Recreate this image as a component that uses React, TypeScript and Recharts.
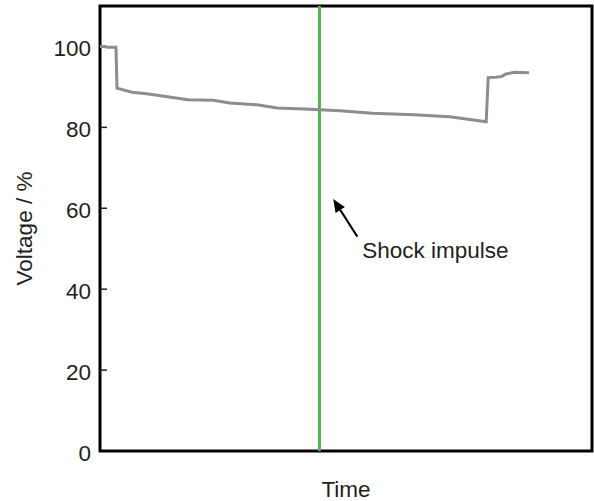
import {
  Line,
  LineChart,
  ReferenceArea,
  ReferenceDot,
  ReferenceLine,
  XAxis,
  YAxis,
} from "recharts";

// time axis is arbitrary units 0..100 (no tick labels in the original)
const times = [
  0, 1.0, 1.4, 3.25, 3.45, 6.5, 9.5, 17.9, 23.0, 26.4, 31.9, 36.0, 42.7, 48.8,
  55.3, 63.8, 71.1, 78.5, 78.9, 80.5, 81.7, 82.5, 84.3, 87.2,
];
const voltage = [
  100.0, 100.0, 99.8, 99.8, 89.7, 88.7, 88.3, 86.8, 86.7, 86.0, 85.6, 84.8,
  84.5, 84.1, 83.5, 83.1, 82.6, 81.4, 92.3, 92.4, 92.6, 93.2, 93.6, 93.5,
];
const yTicks = [0, 20, 40, 60, 80, 100];
const shockTime = 44.6;
const arrowFrom = { x: 52.3, y: 53.0 };
const arrowTo = { x: 47.4, y: 62.3 };
const noteAt = { x: 53.3, y: 47.7, text: "Shock impulse" };

const data = times.map((t, i) => ({ t, v: voltage[i] }));

const FONT = "'Liberation Sans', Arial, sans-serif";
const INK = "#231f20";
const FS = 22.5;

function YTick(props: any) {
  const { x, y, payload } = props;
  return (
    <text
      x={x}
      y={y}
      dy={9.5}
      textAnchor="end"
      fontSize={FS}
      fontFamily={FONT}
      fill={INK}
    >
      {payload.value}
    </text>
  );
}

// inward tick marks on the left edge, drawn as short segments
function InnerTick(props: any) {
  const { x1, y1 } = props;
  return <line x1={x1} x2={x1 + 7} y1={y1} y2={y1} stroke={INK} strokeWidth={1.5} />;
}

function Arrow(props: any) {
  const { x1, y1, x2, y2 } = props;
  const ang = Math.atan2(y2 - y1, x2 - x1);
  const len = 13;
  const half = 5.5;
  const bx = x2 - len * Math.cos(ang);
  const by = y2 - len * Math.sin(ang);
  const px = -Math.sin(ang) * half;
  const py = Math.cos(ang) * half;
  return (
    <g>
      <line x1={x1} y1={y1} x2={bx} y2={by} stroke="#000" strokeWidth={2} />
      <polygon
        points={`${x2},${y2} ${bx + px},${by + py} ${bx - px},${by - py}`}
        fill="#000"
      />
    </g>
  );
}

export default function App() {
  return (
    <div style={{ width: 594, height: 501, background: "#fff" }}>
      <style>{"body{margin:0}"}</style>
      <LineChart
        width={594}
        height={501}
        data={data}
        margin={{ top: 6, right: 2, left: 0, bottom: 0 }}
      >
        <XAxis
          dataKey="t"
          type="number"
          domain={[0, 100]}
          tick={false}
          tickLine={false}
          axisLine={false}
          height={50}
          label={{
            value: "Time",
            position: "insideBottom",
            offset: 4,
            fontSize: FS,
            fontFamily: FONT,
            fill: INK,
          }}
        />
        <YAxis
          type="number"
          domain={[0, 110]}
          ticks={yTicks}
          width={100}
          axisLine={false}
          tickLine={false}
          tickSize={0}
          tickMargin={9}
          tick={<YTick />}
          label={(p: any) => {
            const vb = p.viewBox;
            const cx = vb.x + 24;
            const cy = vb.y + vb.height / 2;
            return (
              <text
                x={cx}
                y={cy}
                transform={`rotate(-90 ${cx} ${cy})`}
                textAnchor="middle"
                dominantBaseline="central"
                fontSize={FS}
                fontFamily={FONT}
                fill={INK}
              >
                Voltage / %
              </text>
            );
          }}
        />
        {yTicks
          .filter((v) => v > 0)
          .map((v) => (
            <ReferenceLine
              key={v}
              segment={[
                { x: 0, y: v },
                { x: 1, y: v },
              ]}
              stroke={INK}
              shape={(p: any) => <InnerTick {...p} />}
            />
          ))}
        <ReferenceArea
          x1={0}
          x2={100}
          y1={0}
          y2={110}
          stroke="#000"
          strokeWidth={3}
          fill="none"
          fillOpacity={0}
        />
        <ReferenceLine x={shockTime} stroke="#4cb748" strokeWidth={3} />
        <Line
          dataKey="v"
          type="linear"
          stroke="#8d8d90"
          strokeWidth={3}
          dot={false}
          isAnimationActive={false}
        />
        <ReferenceLine
          segment={[arrowFrom, arrowTo]}
          stroke="#000"
          shape={(p: any) => <Arrow {...p} />}
        />
        <ReferenceDot
          x={noteAt.x}
          y={noteAt.y}
          r={0}
          shape={(p: any) => (
            <text
              x={p.cx}
              y={p.cy}
              fontSize={FS}
              fontFamily={FONT}
              fill={INK}
            >
              {noteAt.text}
            </text>
          )}
        />
      </LineChart>
    </div>
  );
}
